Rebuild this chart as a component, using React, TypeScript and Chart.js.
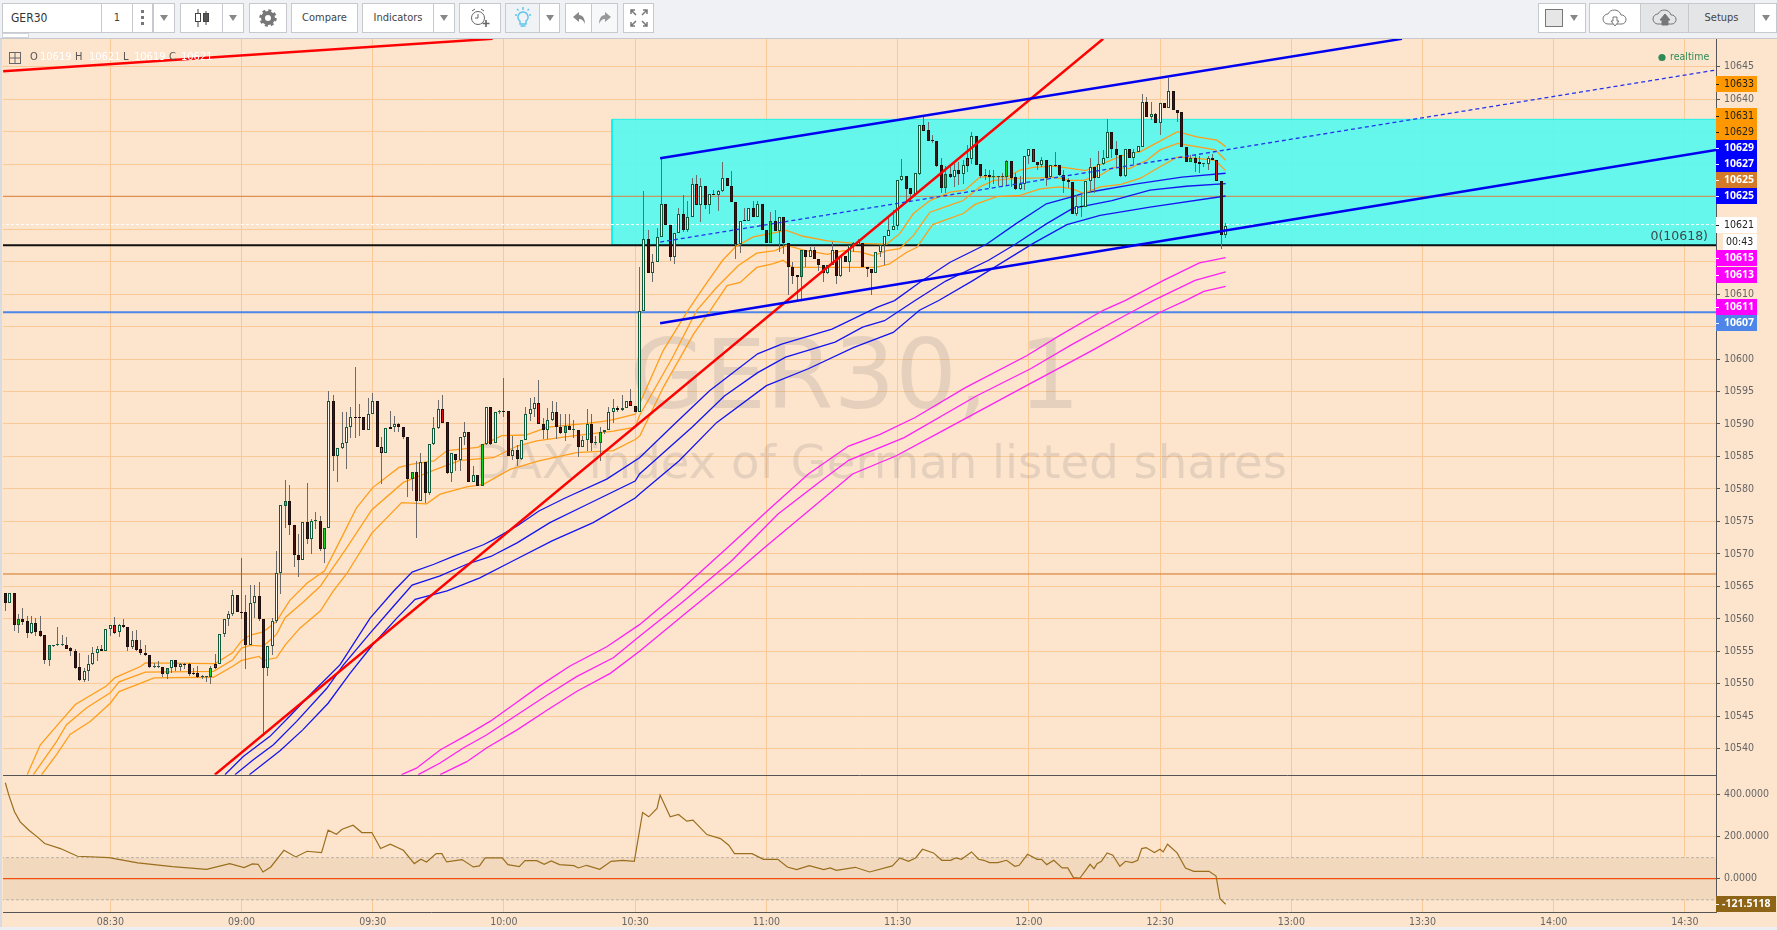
import React, { useEffect, useRef } from "react";
import { Chart, registerables } from "chart.js";

Chart.register(...registerables);

// ---------- axes ----------
const priceTicks = [10540,10545,10550,10555,10560,10565,10570,10575,10580,10585,10590,10595,10600,10605,10610,10615,10620,10625,10630,10635,10640,10645];
const oscTicks = [400, 200, 0];
const timeTicks = [510, 540, 570, 600, 630, 660, 690, 720, 750, 780, 810, 840, 870];
const timeLabels = ["08:30","09:00","09:30","10:00","10:30","11:00","11:30","12:00","12:30","13:00","13:30","14:00","14:30"];
const firstMinute = 486;

// ---------- candles (1-minute bars, first bar at firstMinute) ----------
const opens = [
10564,10562.5,10564,10559.1,10560,10559.6,10557.8,10559.4,10558.1,10557.5,
10553.6,10555.8,10555.9,10555.9,10555.9,10555.5,10555.1,10552.6,10550.6,10551.9,
10553,10554.7,10555.4,10555.1,10558.4,10559,10557.9,10559,10558.7,10555.7,
10556.7,10555.3,10554.7,10554.4,10552.6,10552.6,10552.6,10551.5,10552.5,10553.6,
10552.6,10553.1,10553.1,10551.6,10551.6,10551.1,10551.1,10551.1,10553.1,10553.1,
10557.6,10559.9,10560.7,10563.7,10561.1,10561,10556,10562.5,10563.5,10559.9,
10552.5,10555.8,10559.6,10567.1,10577.4,10578.2,10574.4,10569.9,10569.1,10574.9,
10572.3,10575.1,10575.1,10570.8,10574,10593.6,10585,10586.3,10587,10589.6,
10591.1,10591.1,10591.1,10589,10591.5,10593.6,10586.4,10585.5,10589.6,10589.5,
10590,10589.6,10588,10581.5,10582.6,10578.1,10584.2,10579.3,10586.9,10589.4,
10592.3,10590.3,10582.4,10585.4,10584.5,10588,10588.7,10581,10582.2,10580.4,
10586.9,10592.6,10587,10591.8,10592,10592,10585,10586,10584.6,10587.6,
10591.5,10592.3,10593.2,10590,10589.1,10590.6,10591.8,10589.5,10588.6,10589.7,
10589.1,10589.1,10586.5,10587.5,10590,10587,10587,10588.7,10589,10591.9,
10592.5,10592.2,10592.4,10593.5,10592.8,10591.9,10607.4,10618.5,10613.2,10614.9,
10618.8,10623.8,10620.6,10615.7,10619.4,10622.4,10619.8,10621.8,10627,10623.7,
10626.7,10623.7,10625.4,10625.2,10625.8,10627.8,10626.7,10624.2,10617.7,10621.4,
10621.3,10623.3,10621.9,10623.9,10619.9,10617.8,10621.2,10619.7,10621.9,10617.8,
10614.1,10613,10612.7,10616.8,10615.7,10616.8,10615.4,10614.5,10613.2,10614.4,
10616.8,10612.8,10615.8,10614.9,10617.4,10617.5,10617.9,10614.2,10613.9,10613.2,
10616.4,10617.5,10619,10619.9,10620.5,10627.5,10628.2,10626.3,10625.4,10628.5,
10636,10635.2,10633.7,10633.6,10629.9,10626.4,10628.5,10628,10629.1,10628.5,
10630.9,10630.8,10634.3,10630,10628.4,10628.4,10628,10628,10628,10628,
10630.5,10628,10626.1,10626.9,10631.3,10632.3,10630.4,10629.9,10630.7,10628,
10629.9,10629.8,10628.4,10627.5,10627.3,10622.3,10623.6,10623.4,10627.4,10629.5,
10627.9,10630,10630.9,10634.9,10632.4,10631.4,10628.1,10632.4,10631,10631.8,
10632.7,10639.6,10637.3,10637.7,10636.4,10639.4,10638.7,10641.3,10638.4,10638,
10632.7,10630.4,10630.9,10630.3,10630,10630,10630.9,10630.7,10627.4,10619.1,
];
const highs = [
10564,10563.9,10564,10560.7,10561.7,10560.4,10560.4,10560.2,10560.4,10557.5,
10555.9,10556,10558.7,10557.5,10557.2,10555.6,10555.3,10554.7,10552.4,10554.5,
10555.6,10555.8,10556,10558.4,10559.1,10560.3,10559.2,10559.9,10558.7,10558.1,
10558.2,10556.7,10556,10554.4,10553.2,10553.5,10552.6,10552.5,10553.7,10553.7,
10553.2,10553.2,10553.2,10552.5,10552.7,10551.3,10551.1,10552.7,10554.6,10557.6,
10559.9,10561.2,10564.4,10563.7,10569.3,10563.7,10565.2,10565.2,10565.6,10559.9,
10555.8,10560.1,10570.5,10577.5,10581.4,10580.6,10574.4,10573,10574.9,10580.9,
10575.3,10576.4,10575.8,10574,10595.1,10594.5,10586.3,10591.9,10591.9,10592.6,
10598.8,10593.1,10591.1,10594,10594.7,10593.6,10588,10589.4,10592,10591.3,
10590.2,10589.6,10588,10582.6,10584.3,10585.5,10584.2,10586.9,10591,10593.7,
10594.5,10590.3,10585.5,10585.4,10588,10590.3,10588.7,10583.6,10582.2,10586.9,
10592.6,10592.6,10591.9,10592.2,10597.1,10592,10588.1,10586.7,10587.6,10592.6,
10594,10594.1,10596.7,10590.9,10592.5,10593.6,10593.4,10591.6,10591.5,10591.6,
10590.6,10589.1,10588.2,10592.3,10591.5,10588.2,10589.5,10589.1,10592.6,10593.8,
10592.7,10594.5,10593.5,10595.4,10592.8,10614.2,10625.8,10619.9,10616.2,10620.2,
10630.8,10623.8,10620.6,10619.4,10623.3,10625.3,10624.4,10627.8,10628.4,10627.8,
10626.7,10625.4,10626,10626,10630.3,10627.8,10629,10624.2,10621.2,10623.3,
10623.3,10624.3,10624.4,10623.9,10619.9,10622.6,10622.9,10621.9,10621.9,10617.8,
10614.9,10613,10616.8,10616.8,10617.3,10617.2,10615.4,10614.5,10614.5,10618,
10616.8,10615.8,10615.8,10617.5,10618,10618.5,10617.9,10614.2,10613.9,10616.5,
10617.5,10619,10621.9,10622.9,10627.5,10630.8,10628.2,10626.3,10628.7,10636,
10637.2,10636.5,10634.5,10633.6,10630.9,10629.7,10629.6,10630.4,10630.4,10630.6,
10632.9,10635,10634.3,10630,10629.2,10629.1,10629.1,10628.2,10628.6,10630.6,
10630.5,10628.6,10628.1,10631.3,10632.4,10632.3,10630.4,10631.1,10630.7,10629.9,
10631.8,10629.8,10629.1,10627.8,10627.3,10625.2,10625.2,10627.4,10631,10629.5,
10632.1,10632.2,10636.9,10634.9,10633.5,10631.4,10632.4,10632.4,10632.4,10632.8,
10640.8,10640.4,10639.6,10637.8,10639.4,10639.4,10643.2,10641.3,10638.4,10638,
10632.7,10631.4,10631.4,10631.2,10630.1,10631.2,10631.6,10630.7,10627.4,10621,
];
const lows = [
10561.2,10562.5,10558.1,10557.8,10559.1,10557.1,10557.6,10557.3,10557.2,10553.1,
10552.7,10555.6,10555.8,10555.8,10555.3,10554.2,10552.2,10550.5,10550.3,10550.5,
10552.9,10553.5,10555,10555.1,10557.3,10557.7,10557.2,10558.6,10555.1,10555.4,
10555,10554.5,10554.2,10552.5,10552.4,10552.4,10551,10550.7,10551.7,10551.9,
10552,10552.2,10551.2,10551.4,10550.9,10550.8,10550.3,10550,10552.3,10553,
10557.2,10558.9,10560.4,10561,10559.9,10552.3,10555.9,10560.2,10559.7,10541.9,
10551.2,10554.4,10559.4,10563.8,10574,10572.9,10567.9,10566.5,10569.1,10571.5,
10570,10573.8,10570.4,10568.6,10574,10582.8,10581,10586.1,10583,10587.9,
10587.9,10588.2,10589,10589,10591.5,10586.4,10580.8,10585.5,10589.2,10588.7,
10588.7,10587.7,10578.7,10579.7,10572.5,10578.1,10577.8,10579.1,10586.8,10589.2,
10590.2,10582.3,10581,10582.8,10582.8,10586.7,10581,10581,10580.4,10580.4,
10586.8,10586.8,10587,10591.6,10591,10585,10584.4,10583.6,10584.5,10587.6,
10590.5,10591,10590,10587.7,10587.7,10590.5,10587.7,10588.5,10587.3,10589,
10587.9,10584.9,10586.5,10585.9,10585.9,10586.7,10584.3,10588.5,10589,10590.2,
10591.8,10592,10592.4,10592.7,10591.9,10591.9,10607.4,10613.2,10611.8,10614.9,
10618.8,10620.6,10615.1,10614.7,10619.4,10619.5,10619.5,10621.8,10623.7,10621.1,
10623.1,10622.4,10625.2,10622.8,10625.7,10626.6,10624.2,10615.4,10616.3,10621.2,
10621.3,10621.9,10621.9,10619.9,10617.8,10617.8,10619.7,10616.5,10616.2,10609.8,
10611.6,10609,10609,10614.1,10615.7,10615.4,10613.6,10611.8,10613.1,10614.4,
10611.5,10612.6,10614.9,10613.4,10616.4,10617.5,10614.1,10612.6,10609.8,10613.2,
10615.7,10614.4,10619,10619.9,10619.9,10627.4,10624.2,10624.4,10625.4,10628.3,
10635.1,10633.5,10633.3,10629.6,10625.5,10625.6,10627.8,10626.5,10626.8,10627,
10628.8,10630.1,10629.9,10627.8,10627.5,10626.4,10627,10626.6,10626.5,10626.6,
10626.5,10626,10626,10626,10630.1,10630.4,10629.1,10629.5,10626.6,10627.8,
10629.5,10628.2,10625.5,10626.4,10622.3,10622,10621.9,10623.4,10625.5,10625.5,
10627.8,10629.9,10630.9,10631,10629.5,10628,10628,10630.9,10630,10631.8,
10632.7,10637.3,10636.8,10636.4,10634.5,10638.6,10638.6,10638.3,10636.5,10632.6,
10630.3,10630.3,10628.8,10628.6,10629.6,10629.1,10630.6,10627.4,10617,10618.6,
];
const closes = [
10562.5,10563.9,10559.1,10560,10559.5,10557.8,10559.4,10558,10557.4,10553.6,
10555.9,10555.8,10555.9,10555.9,10555.4,10555.1,10552.5,10550.6,10551.9,10553,
10554.7,10555.4,10555.1,10558.4,10559,10557.8,10559,10558.7,10555.7,10556.7,
10555.2,10554.7,10554.4,10552.6,10552.6,10552.6,10551.5,10552.5,10553.6,10552.6,
10553,10552.9,10551.5,10551.5,10551.1,10551.1,10551.1,10552.5,10552.5,10557.6,
10559.9,10560.7,10563.6,10561.1,10560.9,10556,10562.5,10563.5,10559.9,10552.5,
10555.8,10559.6,10567.1,10577.5,10578.2,10574.4,10569.9,10569.1,10574.9,10572.3,
10575,10575.1,10570.8,10574,10593.6,10585,10586.3,10587.1,10589.6,10591.1,
10590.9,10590.9,10589,10591.5,10593.6,10586.4,10585.5,10589.4,10589.3,10590,
10589.5,10588,10581.5,10582.6,10578.1,10584.1,10579.3,10586.9,10589.4,10592.3,
10590.2,10582.4,10585.5,10584.5,10588,10588.7,10581,10582.2,10580.4,10586.9,
10592.6,10586.9,10591.9,10592,10591.9,10585,10586,10584.6,10587.6,10591.5,
10592.3,10593.2,10590,10589.1,10590.6,10591.8,10589.5,10588.6,10589.7,10589.1,
10589.1,10586.5,10587.5,10590,10587,10587,10588.7,10589,10591.9,10592.5,
10592.2,10592.5,10593.5,10592.7,10591.9,10607.4,10618.5,10613.2,10614.9,10618.8,
10623.8,10620.6,10615.7,10619.4,10622.4,10619.8,10621.8,10627,10623.7,10626.7,
10623.7,10625.4,10625.2,10625.8,10627.8,10626.6,10624.2,10617.7,10621.2,10621.3,
10623.3,10621.9,10623.9,10619.9,10617.8,10621.2,10619.7,10621.9,10617.8,10614.1,
10612.8,10612.7,10616.8,10615.7,10616.8,10615.4,10614.4,10613.2,10614.5,10616.8,
10612.8,10615.8,10614.9,10617.5,10617.9,10618,10614.1,10613.8,10613.2,10616.5,
10617.5,10619,10619.9,10620.5,10627.5,10628.2,10626.2,10625.4,10628.7,10636,
10635.1,10633.6,10633.5,10629.7,10626.3,10628.5,10628,10629.1,10628.5,10629.9,
10629.7,10634.3,10629.9,10628.2,10628.2,10628,10628,10628,10628,10630.5,
10627.9,10626.1,10626.9,10631.3,10632.3,10630.4,10629.9,10630.7,10627.9,10629.9,
10629.7,10628.3,10627.4,10627.3,10622.3,10623.6,10623.4,10627.4,10629.5,10627.9,
10630,10630.9,10634.9,10632.4,10631.4,10628.1,10632.4,10631,10631.8,10632.8,
10639.6,10637.3,10637.7,10636.4,10639.4,10638.7,10641.2,10638.3,10637.9,10632.7,
10630.4,10630.9,10630.2,10630,10630,10630.9,10630.7,10627.4,10619.1,10620.5,
];
const greenBars = [4, 11, 38, 48, 65, 74, 87, 94, 110, 114, 129, 137, 138, 142, 176, 183, 216, 230, 272];
const redBars = [26, 49, 101, 115, 123, 144, 159, 211, 221, 236, 278];

// ---------- moving-average ribbons: [minute, price] ----------
const orangeUpper = [[491,10536],[494,10540.6],[498,10543.7],[502,10546.8],[509,10549.6],[511,10550.9],[517,10552.7],[518,10553.2],[534,10553.1],[538,10554.8],[540,10556.6],[542,10557.5],[545,10558],[548,10559.6],[551,10562.8],[555,10565.5],[559,10567.4],[562.5,10572],[566.3,10577.1],[570,10580.2],[576,10583.3],[579,10583.8],[584,10584.3],[587,10585.9],[594,10586.4],[599.5,10588.2],[605,10588.3],[610,10589.5],[619,10590.1],[624,10590.5],[630,10591.5],[631,10593.1],[636.4,10601.3],[642,10607.4],[645.6,10611],[650,10615.2],[653,10617.3],[657,10618.8],[664.6,10619.8],[668.4,10618.9],[674,10618.2],[680,10617.8],[687.5,10617.7],[690.5,10619.3],[693.6,10622.4],[697.4,10624.4],[702,10625.7],[705.4,10626],[708.8,10628],[711,10628.1],[715,10628],[718,10629.1],[721,10629.5],[725.6,10629.7],[730,10629.3],[733,10629],[738,10630.4],[742.4,10631.6],[745.4,10631.9],[749,10633.2],[754,10635],[758.4,10634.2],[763,10633.7],[765,10632.7]];
const orangeMiddle = [[492.4,10536],[497.7,10541.1],[500,10543.7],[504.6,10546.3],[510,10548.6],[512,10550.3],[518,10551.8],[533.6,10551.9],[538,10553.7],[540,10555.5],[542,10555.9],[545,10555.8],[548,10557.6],[550,10560.2],[554,10562.5],[558,10565],[560,10567],[564,10570.9],[569.8,10576.8],[577,10581],[584,10582.9],[590,10584.4],[597.6,10584.8],[603,10586.6],[607.5,10587.4],[614,10588],[625,10588.9],[630,10589.5],[631,10591.3],[638.5,10600.2],[644,10607.4],[648.6,10611],[653.6,10614.4],[657.8,10616.3],[662,10616.7],[664.6,10617.5],[669,10616.7],[674,10616.1],[677.6,10616.7],[681.4,10616.5],[684.4,10615.9],[687.5,10616.7],[690.5,10617],[693.6,10619],[697.4,10622.6],[702,10623.7],[705,10624.4],[708.8,10626.5],[712,10627.5],[717,10627.8],[722.6,10627.9],[725.6,10628],[729.4,10627.5],[732.5,10627.5],[736.3,10628.3],[739.3,10629.5],[743,10629.3],[747,10630.6],[750,10632.2],[754,10633.2],[758.4,10632.7],[762.6,10632.2],[765,10630.6]];
const orangeLower = [[494.3,10536],[497.7,10539.1],[500.8,10542.2],[505.4,10544.2],[510,10547],[512,10548.8],[517,10550.1],[520,10550.9],[533.6,10551],[538,10552.7],[540,10553.6],[544,10554.2],[545,10553.6],[548,10554],[550,10556],[553.4,10558.6],[558,10561.2],[561,10564.3],[564,10566.9],[569.8,10573.2],[576.6,10577.9],[582.3,10577.7],[585.4,10579.2],[591.5,10580.3],[595.3,10580.7],[601.4,10583],[608,10584.3],[616.6,10585.6],[625,10585.9],[630,10587.6],[631.1,10588.2],[636.4,10595.6],[643.4,10603.9],[647.1,10607.4],[651,10611.3],[654,10611.8],[657.8,10614.1],[661.6,10614.7],[663.8,10615.2],[666,10614.1],[669,10614.1],[685,10614.1],[688,10614.6],[692,10616.4],[694.4,10617.2],[698,10620.7],[705,10622.4],[707.7,10623.8],[712.7,10625],[718,10625.2],[722.6,10626.2],[727,10626.5],[730,10626.2],[732.5,10625.5],[736.3,10626.5],[741,10626.9],[745.4,10627.8],[750,10629.6],[754,10631.1],[758.4,10630.9],[762.6,10630.6],[765,10629]];
const blueUpper = [[536.2,10536],[540.4,10538.8],[546.5,10541.9],[551,10545],[556.4,10548.8],[562.5,10552.9],[569.4,10560.1],[574.7,10564.2],[579,10567.2],[584,10568.4],[588.4,10569.6],[595.3,10571.4],[597.6,10572.2],[603,10574.3],[608,10576.6],[614,10578.6],[623.5,10581.5],[631,10584.8],[639,10590],[647,10595.1],[658,10600.8],[663.5,10602.3],[675,10604.6],[685.4,10608],[689.3,10609],[695.5,10612],[702,10614.9],[710.4,10617.7],[717,10620.8],[724,10623.9],[730,10625],[733,10625.6],[745,10627],[755,10628],[765,10628.6]];
const blueMiddle = [[538.5,10536],[542.7,10538.3],[547.3,10540.6],[552.6,10544.2],[559.5,10549.3],[563.3,10552.9],[569.4,10557.8],[574.7,10561.9],[579,10565.2],[585.4,10566.6],[591.5,10568.4],[597,10569.6],[603,10571.7],[610.5,10574.8],[619,10577.6],[630,10581.2],[631,10582.3],[643,10589.5],[650.4,10594.3],[658,10597.9],[664.4,10600.3],[675.7,10602.6],[682,10604.9],[687,10605.9],[694,10609],[701,10612],[710.8,10615.2],[717,10617.7],[724,10620.8],[730,10623.2],[739,10624.4],[747.7,10626],[756,10626.6],[765,10627]];
const blueLower = [[541.8,10536],[548.8,10539.7],[554,10542.9],[559.8,10547],[564.8,10551.6],[570,10556],[575.5,10560.1],[579.7,10563],[587,10564.3],[594.5,10566.3],[602,10568.9],[611,10572],[620.4,10574.8],[630,10578.6],[631,10579.2],[640,10584.3],[648.6,10590.2],[660,10595.9],[669.6,10598.5],[680,10601.8],[689,10604.1],[695,10607.5],[699.4,10609],[707,10612],[721,10617.8],[728.7,10620.7],[736.3,10622.1],[747.7,10623.4],[765,10625.1]];
const magentaUpper = [[576.6,10536],[580,10537],[585.4,10539.8],[591.5,10542.1],[596.8,10544.2],[602,10546.7],[608,10549.6],[615,10552.7],[623.5,10555.7],[631,10559.1],[640,10564.2],[651,10570.9],[661,10577.1],[669.6,10582.3],[678.8,10586.6],[686,10588.4],[694,10591],[705.5,10595.6],[719.5,10600.5],[727,10603.6],[737,10607.5],[742,10609],[750.8,10612.1],[759,10614.8],[765,10615.6]];
const magentaMiddle = [[580.4,10536],[585.4,10537.8],[590.7,10540.1],[596,10542.1],[602.5,10545],[610,10548.3],[616.6,10551.1],[625,10554],[631,10557.3],[640.7,10562.5],[652,10568.9],[662.6,10576.1],[672,10581],[678.8,10584.4],[691.5,10587.9],[708,10594.3],[720.4,10598.5],[730,10602.3],[742,10606.7],[748.4,10609],[758,10612.1],[765,10613.4]];
const magentaLower = [[585.4,10536],[591.5,10538],[596,10540.1],[603,10542.9],[610,10546],[616.6,10548.8],[624.3,10551.6],[631,10555],[641.6,10560.9],[652,10566.6],[660,10571.2],[669.6,10576.6],[679.7,10582.3],[689.7,10585.1],[701,10589.2],[718.6,10595.6],[734.4,10601.3],[750,10607.2],[755.8,10609],[760,10610.4],[765,10611.2]];

// ---------- drawings ----------
const xEnd = 877.1;
const redShort = [[485.5,10644.3],[597.4,10649.3]];
const redLong = [[533.9,10536],[737,10649.3]];
const channelTop = [[635.7,10630.9],[805.3,10649.3]];
const channelBottom = [[635.7,10605.5],[877.1,10632.2]];
const channelMiddle = [[635.7,10618],[877.1,10644.5]];
const cyanBox = { fromMinute: 624.7, top: 10636.9, bottom: 10617.6 };
const levelOrange = 10625.05;
const levelBlue = 10607.2;
const levelBrown = 10566.9;
const levelBlack = 10617.5;
const levelWhite = 10620.7;

// ---------- CCI-like oscillator ----------
const oscMinutes = [486,486.8,488.1,489.4,491.4,493.3,495,498.6,502.5,509.7,516.3,524.2,532,537.3,540.6,542.5,543.8,544.9,546.7,549.7,552.4,555,558.3,559.8,561.7,563,565.5,567.5,569.8,571.8,574,577,579.5,581,582.3,584.5,585.8,586.9,590.4,593,594.4,595.7,599.6,600.9,603.5,604.8,607.5,609.2,610.8,612.7,616,617,618.9,621.9,624.5,627.2,629.8,631.7,633.1,635,635.7,638,639.9,641.8,643.2,646.4,649.5,651.4,652.7,656.7,659.3,662.6,664.8,666.9,669.8,673.1,674.6,676,680.3,683.6,688.8,690.5,692.5,694.1,695.7,698.2,700.1,702.1,703.3,704.6,706.9,708.5,709.7,711,712.9,714.9,716.8,717.8,719.7,721.9,722.9,724.1,725.7,727.6,728.9,730.2,731.7,734,734.9,735.6,736.6,737.9,739.2,740.8,742.1,743.6,744.9,745.8,746.8,748.7,750,750.7,751.7,753.9,755.8,757.7,761.2,762.8,763.7,765];
const oscValues = [455.6,397,317.6,270,230,198.5,166.8,143,106.5,100.1,74.8,57.3,44.6,71.6,52.5,70,68.4,31.9,55.7,135,103.3,130.3,124,230.3,211.2,235,254,219.2,219.2,143,163.6,135,71.6,92.2,79.5,119.2,119.2,79.5,90.6,55.7,60.5,98.6,98.6,66.8,57.3,85.9,85.9,68.4,84.3,66.8,62,51,63.6,44.6,82.7,87.4,82.7,314.4,293.8,333.4,396.9,293.8,304.9,273.1,277.9,209.6,190.6,158.9,119.2,119.2,92.2,92.2,55.7,43,62,43,51,39.8,54.1,31.9,60.5,98.6,82.7,98.6,139.8,122.4,87.4,87.4,98.6,92.2,127.1,92.2,87.4,76.3,76.3,87.4,58.9,63.6,116,92.2,92.2,66.8,87.4,51,51,4.9,3.3,68.4,47.8,71.6,82.7,122.4,111.3,58.9,82.7,76.3,87.4,143,147.8,124,139.8,127.1,163.6,122.4,51,35.1,35.1,12.9,-95,-121.5];

// ---------- price tags on the axis ----------
const tagLabels = ["10633","10631","10629","10629","10627","10625","10625","10621","00:43","10615","10613","10611","10607"];
const tagLevels = [10642.33,10637.39,10634.92,10632.45,10629.98,10627.5,10625.05,10620.57,10617.95,10615.48,10613,10608.07,10605.6];
const tagFills = ["#FF9800","#FF9800","#FF9800","#0000FF","#0000FF","#D27A28","#0000FF","#FFFFFF","#FFFFFF","#FF00FF","#FF00FF","#FF00FF","#4D86E8"];
const ohlcLabels = ["O","H","L","C"];
const ohlcValues = ["10619","10621","10619","10621"];

const FONT = '"DejaVu Sans Condensed", "DejaVu Sans", sans-serif';
const BOLD_FONT = '"Open Sans", sans-serif';
const PEACH = "#FCE4CD";
const GRID = "#FAC998";

const pts = (list: number[][]) => list.map(([x, y]) => ({ x, y }));

const overlayPlugin = {
  id: "overlay",
  afterDatasetsUpdate(chart: any) {
    chart.data.datasets.forEach((ds: any, i: number) => {
      if (ds.type !== "bar") return;
      chart.getDatasetMeta(i).data.forEach((el: any) => {
        el.x = Math.floor(el.x) + 0.5;
        el.y = Math.round(el.y);
        el.base = Math.round(el.base);
        if (el.y === el.base) el.base = el.y + 1;
      });
    });
  },
  beforeDraw(chart: any) {
    const { ctx, width, height } = chart;
    ctx.save();
    ctx.fillStyle = PEACH;
    ctx.fillRect(0, 0, width, height);
    ctx.restore();
  },
  beforeDatasetsDraw(chart: any) {
    const { ctx } = chart;
    ctx.save();
    ctx.textAlign = "center";
    ctx.textBaseline = "middle";
    ctx.fillStyle = "rgba(95,95,95,0.14)";
    ctx.font = '97px "DejaVu Sans"';
    ctx.fillText("GER30, 1", 855, 383);
    ctx.font = '46.6px "DejaVu Sans"';
    ctx.fillText("DAX index of German listed shares", 881, 466);
    ctx.restore();
  },
  afterDraw(chart: any) {
    const { ctx, chartArea, scales } = chart;
    const yP = scales.y;
    const yO = scales.y2;
    ctx.save();
    // pane divider
    ctx.strokeStyle = "#555";
    ctx.lineWidth = 1;
    ctx.beginPath();
    ctx.moveTo(chartArea.left, Math.round(yP.bottom) + 0.5);
    ctx.lineTo(chartArea.right, Math.round(yP.bottom) + 0.5);
    ctx.stroke();

    // axis tags
    ctx.textBaseline = "middle";
    ctx.textAlign = "left";
    tagLabels.forEach((label, i) => {
      const cy = Math.round(yP.getPixelForValue(tagLevels[i]));
      const fill = tagFills[i];
      const light = fill === "#FFFFFF" || fill === "#FF9800";
      const isTimer = label.includes(":");
      ctx.fillStyle = fill;
      ctx.fillRect(isTimer ? 1723 : 1716, cy - 8, isTimer ? 34 : 41, 16);
      ctx.fillStyle = light ? "#222" : "#FFF";
      ctx.font = light ? `10.5px ${FONT}` : `bold 10.5px ${BOLD_FONT}`;
      ctx.fillText(label, isTimer ? 1726 : 1724, cy + 0.5);
      if (!isTimer) ctx.fillRect(1716, cy, 3, 1);
    });
    const oscLast = oscValues[oscValues.length - 1];
    const oy = Math.round(yO.getPixelForValue(oscLast));
    ctx.fillStyle = "#8E6516";
    ctx.fillRect(1716, oy - 8, 60, 16);
    ctx.fillStyle = "#FFF";
    ctx.font = `bold 10.5px ${BOLD_FONT}`;
    ctx.fillText("-121.5118", 1722, oy + 0.5);
    ctx.fillRect(1716, oy, 3, 1);

    // fib label
    ctx.textAlign = "right";
    ctx.fillStyle = "#3c4a4a";
    ctx.font = '12.5px "DejaVu Sans"';
    ctx.fillText("0(10618)", 1708, 237);

    // realtime
    ctx.fillStyle = "#2E8B57";
    ctx.beginPath();
    ctx.arc(1662, 57.5, 3.6, 0, Math.PI * 2);
    ctx.fill();
    ctx.textAlign = "left";
    ctx.font = `10.5px ${FONT}`;
    ctx.fillText("realtime", 1670, 57.5);

    // OHLC legend
    const lx = [30, 75, 123, 169];
    const vx = [40, 89, 134, 181];
    ctx.font = `11px ${FONT}`;
    ohlcLabels.forEach((l, i) => {
      ctx.fillStyle = "#555";
      ctx.fillText(l, lx[i], 57.5);
      ctx.fillStyle = "#FFF";
      ctx.fillText(ohlcValues[i], vx[i], 57.5);
    });
    ctx.strokeStyle = "#666";
    ctx.strokeRect(9.5, 52.5, 11, 11);
    ctx.beginPath();
    ctx.moveTo(15, 53);
    ctx.lineTo(15, 63);
    ctx.moveTo(10, 58);
    ctx.lineTo(20, 58);
    ctx.stroke();
    ctx.restore();
  },
};

const Btn = ({ x, w, shade, children, style }: any) => (
  <div
    style={{
      position: "absolute",
      left: x,
      top: 3,
      width: w,
      height: 29.5,
      boxSizing: "border-box",
      border: "1px solid #C6C9CE",
      background: shade ? "#F0F3F6" : "#FFF",
      display: "flex",
      alignItems: "center",
      justifyContent: "center",
      color: "#444",
      font: `11px ${FONT}`,
      ...style,
    }}
  >
    {children}
  </div>
);
const Arrow = () => (
  <svg width="10" height="6"><path d="M1 0 H9 L5 6 Z" fill="#888" /></svg>
);

export default function App() {
  const ref = useRef<HTMLCanvasElement>(null);
  useEffect(() => {
    document.body.style.margin = "0";
    const minuteOf = (i: number) => firstMinute + i;
    const wicks = opens.map((_, i) => ({ x: minuteOf(i), y: [lows[i], highs[i]] }));
    const bodies = opens.map((o, i) => ({ x: minuteOf(i), y: [Math.min(o, closes[i]), Math.max(o, closes[i])] }));
    const isGreen = (i: number) => greenBars.includes(i + 1);
    const isRed = (i: number) => redBars.includes(i + 1);
    const bodyFill = opens.map((o, i) =>
      isGreen(i) ? "#12D61E" : isRed(i) ? "#E00F0F" : closes[i] >= o ? "#FBFBF4" : "#45100F"
    );
    const bodyEdge = opens.map((o, i) => (closes[i] >= o ? "#0F5B3C" : "#1E0F0E"));

    const line = (data: any[], color: string, width: number, order: number, extra: any = {}) => ({
      type: "line",
      data,
      borderColor: color,
      borderWidth: width,
      pointRadius: 0,
      tension: 0,
      fill: false,
      order,
      yAxisID: "y",
      xAxisID: "x",
      ...extra,
    });
    const level = (v: number, color: string, width: number, order: number, extra: any = {}) =>
      line([{ x: 485, y: v }, { x: 878, y: v }], color, width, order, extra);

    const chart = new Chart(ref.current as HTMLCanvasElement, {
      type: "bar",
      plugins: [overlayPlugin],
      data: {
        datasets: [
          line([{ x: cyanBox.fromMinute, y: cyanBox.top }, { x: xEnd, y: cyanBox.top }], "#22F0E6", 1, 30, {
            fill: { target: { value: cyanBox.bottom } },
            backgroundColor: "rgba(88,248,238,0.92)",
          }),
          line([{ x: cyanBox.fromMinute, y: cyanBox.top }, { x: cyanBox.fromMinute, y: cyanBox.bottom }, { x: xEnd, y: cyanBox.bottom }], "#00F2EC", 1, 29),
          level(levelOrange, "#D98040", 1, 25),
          level(levelBlue, "#4D86E8", 2, 25),
          level(levelBrown, "#D2741F", 1, 25),
          level(levelBlack, "#111", 2, 24),
          level(levelWhite, "#FFF", 1, 24, { borderDash: [3, 2] }),
          line(pts(orangeUpper), "#FF9E1B", 1.3, 20),
          line(pts(orangeMiddle), "#FF9E1B", 1.3, 20),
          line(pts(orangeLower), "#FF9E1B", 1.3, 20),
          line(pts(blueUpper), "#1515F0", 1.3, 20),
          line(pts(blueMiddle), "#1515F0", 1.3, 20),
          line(pts(blueLower), "#1515F0", 1.3, 20),
          line(pts(magentaUpper), "#FF22F0", 1.3, 20),
          line(pts(magentaMiddle), "#FF22F0", 1.3, 20),
          line(pts(magentaLower), "#FF22F0", 1.3, 20),
          {
            type: "bar",
            data: wicks,
            backgroundColor: "#6B6B6B",
            borderWidth: 0,
            barThickness: 1,
            grouped: false,
            inflateAmount: 0,
            order: 12,
            yAxisID: "y",
            xAxisID: "x",
          },
          {
            type: "bar",
            data: bodies,
            backgroundColor: bodyFill,
            borderColor: bodyEdge,
            borderWidth: 1,
            borderSkipped: false,
            barThickness: 3,
            grouped: false,
            inflateAmount: 0,
            minBarLength: 1,
            order: 11,
            yAxisID: "y",
            xAxisID: "x",
          },
          line(pts(redShort), "#F00", 2.5, 3),
          line(pts(redLong), "#F00", 2.5, 3),
          line(pts(channelTop), "#0000F0", 2.5, 2),
          line(pts(channelBottom), "#0000F0", 2.5, 2),
          line(pts(channelMiddle), "#2233EE", 1.3, 2, { borderDash: [4, 3] }),
          // oscillator pane
          line([{ x: 485, y: 100 }, { x: 878, y: 100 }], "#B8B0A8", 1, 10, {
            yAxisID: "y2",
            borderDash: [3, 2],
            fill: { target: { value: -100 } },
            backgroundColor: "#F2D9BD",
          }),
          line([{ x: 485, y: -100 }, { x: 878, y: -100 }], "#B8B0A8", 1, 9, { yAxisID: "y2", borderDash: [3, 2] }),
          line([{ x: 485, y: 0 }, { x: 878, y: 0 }], "#F0500F", 1.3, 8, { yAxisID: "y2" }),
          line(oscMinutes.map((x, i) => ({ x, y: oscValues[i] })), "#9A6E1E", 1.2, 5, { yAxisID: "y2" }),
        ] as any,
      },
      options: {
        responsive: false,
        animation: false,
        devicePixelRatio: 1,
        events: [],
        layout: { padding: { left: 3, top: 39, right: 0, bottom: 0 } },
        plugins: { legend: { display: false }, tooltip: { enabled: false } },
        scales: {
          x: {
            type: "linear",
            min: 485.47,
            max: xEnd,
            offset: false,
            position: "bottom",
            grid: { color: GRID, lineWidth: 1, offset: false, drawTicks: false },
            border: { color: "#555" },
            afterBuildTicks: (s: any) => {
              s.ticks = timeTicks.map((value) => ({ value }));
            },
            afterFit: (s: any) => {
              s.height = 18;
            },
            ticks: {
              autoSkip: false,
              maxRotation: 0,
              padding: 4,
              color: "#666",
              font: { family: FONT, size: 10.5 },
              callback: (_: any, i: number) => timeLabels[i],
            },
          },
          y: {
            type: "linear",
            position: "right",
            stack: "panes",
            stackWeight: 734,
            min: 10536,
            max: 10649.27,
            grid: { color: GRID, lineWidth: 1, tickColor: "#555", tickLength: 4 },
            border: { color: "#555" },
            afterBuildTicks: (s: any) => {
              s.ticks = priceTicks.map((value) => ({ value }));
            },
            afterFit: (s: any) => {
              s.width = 61;
            },
            ticks: {
              autoSkip: false,
              padding: 4,
              color: "#666",
              font: { family: FONT, size: 10.5 },
              callback: (v: any) => String(v),
            },
          },
          y2: {
            type: "linear",
            position: "right",
            stack: "panes",
            stackWeight: 137,
            min: -158.1,
            max: 493.8,
            offset: false,
            grid: { color: GRID, lineWidth: 1, tickColor: "#555", tickLength: 4 },
            border: { color: "#555" },
            afterBuildTicks: (s: any) => {
              s.ticks = oscTicks.map((value) => ({ value }));
            },
            afterFit: (s: any) => {
              s.width = 61;
            },
            ticks: {
              autoSkip: false,
              padding: 4,
              color: "#666",
              font: { family: FONT, size: 10.5 },
              callback: (v: any) => Number(v).toFixed(4),
            },
          },
        },
      } as any,
    } as any);
    return () => chart.destroy();
  }, []);

  return (
    <div style={{ position: "fixed", left: 0, top: 0, width: 1777, height: 930, overflow: "hidden", background: PEACH }}>
      <canvas ref={ref} width={1777} height={930} style={{ position: "absolute", left: 0, top: 0, display: "block" }} />
      {/* left gutter, bottom strip */}
      <div style={{ position: "absolute", left: 0, top: 38, width: 2, height: 892, background: "#D8DBDF" }} />
      <div style={{ position: "absolute", left: 0, top: 927, width: 1777, height: 3, background: "#EDEFF2" }} />
      {/* toolbar */}
      <div style={{ position: "absolute", left: 0, top: 0, width: 1777, height: 38, background: "#EFF1F5", borderBottom: "1px solid #C6C9CE", boxSizing: "content-box" }}>
        <Btn x={2} w={100} style={{ justifyContent: "flex-start", paddingLeft: 8, fontSize: 12, color: "#333" }}>GER30</Btn>
        <Btn x={101} w={32}>1</Btn>
        <Btn x={132} w={21}>
          <svg width="4" height="16"><rect y="0" width="3" height="3" fill="#777" /><rect y="6" width="3" height="3" fill="#777" /><rect y="12" width="3" height="3" fill="#777" /></svg>
        </Btn>
        <Btn x={153} w={22}><Arrow /></Btn>
        <Btn x={180} w={43}>
          <svg width="18" height="20" stroke="#444" fill="none"><path d="M5 1V19M13 3V17" /><rect x="2.5" y="5.5" width="5" height="8" fill="#FFF" /><rect x="10.5" y="5.5" width="5" height="8" fill="#555" /></svg>
        </Btn>
        <Btn x={222} w={22}><Arrow /></Btn>
        <Btn x={249} w={38}>
          <svg width="18" height="18"><circle cx="9" cy="9" r="5" fill="none" stroke="#777" strokeWidth="4" /><circle cx="9" cy="9" r="7.5" fill="none" stroke="#777" strokeWidth="2.5" strokeDasharray="3 2.9" /></svg>
        </Btn>
        <Btn x={291} w={67}>Compare</Btn>
        <Btn x={362} w={72}>Indicators</Btn>
        <Btn x={433} w={22}><Arrow /></Btn>
        <Btn x={459} w={42}>
          <svg width="22" height="20" stroke="#666" fill="none"><circle cx="9" cy="10" r="6.5" /><path d="M9 6V10H6M3 3L6 1M15 3L12 1" /><path d="M17 12V19M13.5 15.5H20.5" strokeWidth="1.6" /></svg>
        </Btn>
        <Btn x={505} w={35} shade>
          <svg width="18" height="22" stroke="#5CC4EC" fill="none" strokeWidth="1.4"><path d="M9 5a5 5 0 0 1 3 9v3H6v-3a5 5 0 0 1 3-9Z" /><path d="M6.5 19H11.5M9 0V3M1 8H3M15 8H17M3 2L4.5 3.5M15 2L13.5 3.5" /></svg>
        </Btn>
        <Btn x={539} w={21}><Arrow /></Btn>
        <Btn x={565} w={27}>
          <svg width="14" height="14"><path d="M7 1 L1 6 L7 11 V8 C10 8 12 10 13 13 C13 8 11 4 7 4 Z" fill="#888" /></svg>
        </Btn>
        <Btn x={591} w={27} style={{ background: "#F7F8FA" }}>
          <svg width="14" height="14"><path d="M7 1 L13 6 L7 11 V8 C4 8 2 10 1 13 C1 8 3 4 7 4 Z" fill="#999" /></svg>
        </Btn>
        <Btn x={623} w={31}>
          <svg width="18" height="18" stroke="#777" fill="none" strokeWidth="1.5"><path d="M1 5V1H5M17 5V1H13M1 13V17H5M17 13V17H13M1 1L6 6M17 1L12 6M1 17L6 12M17 17L12 12" /></svg>
        </Btn>
        <Btn x={1538} w={48} style={{ gap: 6 }}>
          <div style={{ width: 16, height: 16, background: "#E6E6E6", border: "1px solid #777" }} />
          <Arrow />
        </Btn>
        <Btn x={1589} w={52}>
          <svg width="28" height="20" stroke="#777" fill="#FFF"><path d="M7 16a5 5 0 0 1 0-10a7 7 0 0 1 13 1a4.5 4.5 0 0 1 1 9Z" /><path d="M12 9H16V13H18L14 18L10 13H12Z" /></svg>
        </Btn>
        <Btn x={1640} w={49} style={{ background: "#E4E5E7" }}>
          <svg width="28" height="20" stroke="#777" fill="none"><path d="M7 16a5 5 0 0 1 0-10a7 7 0 0 1 13 1a4.5 4.5 0 0 1 1 9Z" /><path d="M14 6L19 12H17V17H11V12H9Z" fill="#777" /></svg>
        </Btn>
        <Btn x={1688} w={67} style={{ background: "#E4E5E7" }}>Setups</Btn>
        <Btn x={1754} w={23}><Arrow /></Btn>
      </div>
      <div style={{ position: "absolute", left: 2, top: 33, width: 27, height: 5, background: "#FFF", border: "1px solid #D0D3D7", boxSizing: "border-box" }} />
    </div>
  );
}
